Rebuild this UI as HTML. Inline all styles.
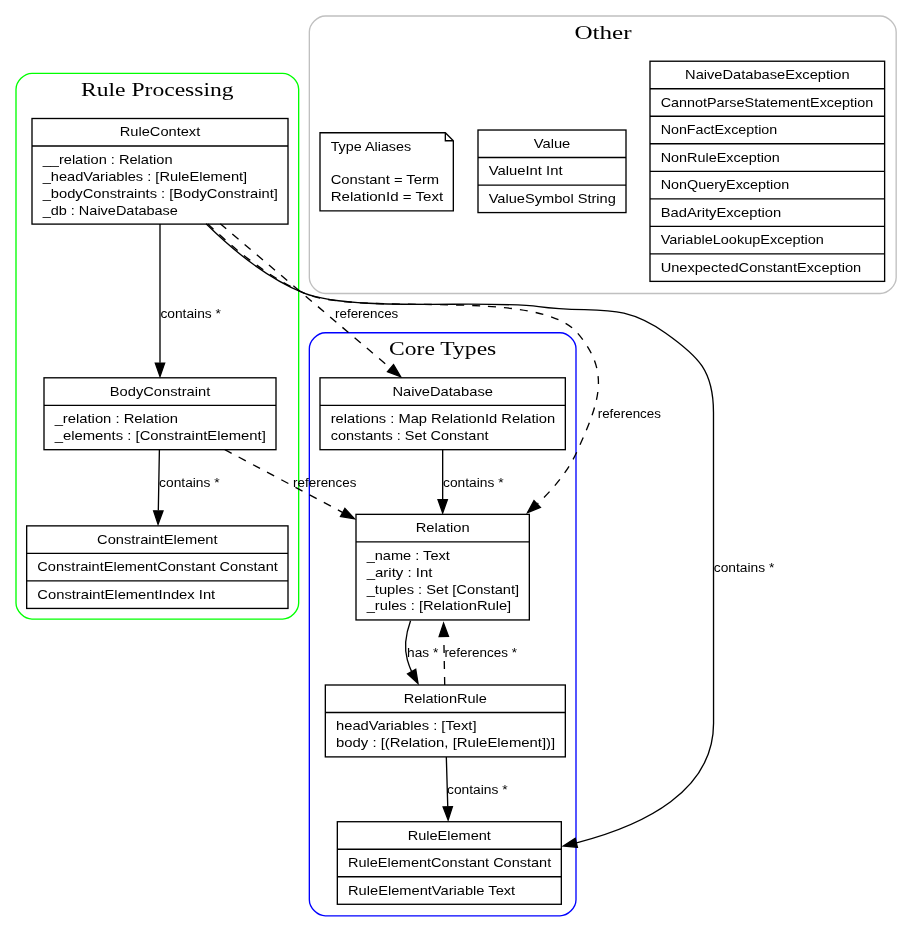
<!DOCTYPE html>
<html><head><meta charset="utf-8"><style>
html,body{margin:0;padding:0;background:#fff;}
svg{display:block;will-change:transform;}
</style></head><body>
<svg width="912" height="932" viewBox="0 0 912 932">
<rect x="0" y="0" width="912" height="932" fill="#fff"/>
<path d="M32.00,619.08C32.00,619.08 282.67,619.08 282.67,619.08 290.67,619.08 298.67,611.09 298.67,603.10 298.67,603.10 298.67,89.32 298.67,89.32 298.67,81.32 290.67,73.32 282.67,73.32 282.67,73.32 32.00,73.32 32.00,73.32 24.00,73.32 16.00,81.32 16.00,89.32 16.00,89.32 16.00,603.10 16.00,603.10 16.00,611.09 24.00,619.08 32.00,619.08" fill="none" stroke="#00ff00" stroke-width="1.333"/>
<text x="157.33" y="96.42" font-family="&quot;Liberation Serif&quot;, serif" font-size="19.6" text-anchor="middle" textLength="152.53" lengthAdjust="spacingAndGlyphs">Rule Processing</text>
<path d="M325.33,915.80C325.33,915.80 560.00,915.80 560.00,915.80 568.00,915.80 576.00,907.80 576.00,899.80 576.00,899.80 576.00,348.65 576.00,348.65 576.00,340.68 568.00,332.71 560.00,332.71 560.00,332.71 325.33,332.71 325.33,332.71 317.33,332.71 309.33,340.68 309.33,348.65 309.33,348.65 309.33,899.80 309.33,899.80 309.33,907.80 317.33,915.80 325.33,915.80" fill="none" stroke="#0000ff" stroke-width="1.333"/>
<text x="442.67" y="355.21" font-family="&quot;Liberation Serif&quot;, serif" font-size="19.6" text-anchor="middle" textLength="107.20" lengthAdjust="spacingAndGlyphs">Core Types</text>
<path d="M325.33,293.53C325.33,293.53 880.17,293.53 880.17,293.53 888.17,293.53 896.17,285.56 896.17,277.59 896.17,277.59 896.17,31.99 896.17,31.99 896.17,24.00 888.17,16.00 880.17,16.00 880.17,16.00 325.33,16.00 325.33,16.00 317.33,16.00 309.33,24.00 309.33,31.99 309.33,31.99 309.33,277.59 309.33,277.59 309.33,285.56 317.33,293.53 325.33,293.53" fill="none" stroke="#c0c0c0" stroke-width="1.333"/>
<text x="603.00" y="39.00" font-family="&quot;Liberation Serif&quot;, serif" font-size="19.6" text-anchor="middle" textLength="57.20" lengthAdjust="spacingAndGlyphs">Other</text>
<rect x="32.00" y="118.50" width="256.00" height="105.60" fill="none" stroke="#000" stroke-width="1.333"/>
<text x="160.00" y="136.43" font-family="&quot;Liberation Sans&quot;, sans-serif" font-size="13.4" text-anchor="middle" textLength="80.53" lengthAdjust="spacingAndGlyphs">RuleContext</text>
<line x1="32.00" y1="146.02" x2="288.00" y2="146.02" stroke="#000" stroke-width="1.333"/>
<text x="42.67" y="163.95" font-family="&quot;Liberation Sans&quot;, sans-serif" font-size="13.4" textLength="129.87" lengthAdjust="spacingAndGlyphs">__relation : Relation</text>
<text x="42.67" y="180.81" font-family="&quot;Liberation Sans&quot;, sans-serif" font-size="13.4" textLength="204.53" lengthAdjust="spacingAndGlyphs">_headVariables : [RuleElement]</text>
<text x="42.67" y="197.66" font-family="&quot;Liberation Sans&quot;, sans-serif" font-size="13.4" textLength="235.20" lengthAdjust="spacingAndGlyphs">_bodyConstraints : [BodyConstraint]</text>
<text x="42.67" y="214.51" font-family="&quot;Liberation Sans&quot;, sans-serif" font-size="13.4" textLength="135.20" lengthAdjust="spacingAndGlyphs">_db : NaiveDatabase</text>
<rect x="44.00" y="377.80" width="232.00" height="71.89" fill="none" stroke="#000" stroke-width="1.333"/>
<text x="160.00" y="395.74" font-family="&quot;Liberation Sans&quot;, sans-serif" font-size="13.4" text-anchor="middle" textLength="100.53" lengthAdjust="spacingAndGlyphs">BodyConstraint</text>
<line x1="44.00" y1="405.32" x2="276.00" y2="405.32" stroke="#000" stroke-width="1.333"/>
<text x="54.67" y="423.26" font-family="&quot;Liberation Sans&quot;, sans-serif" font-size="13.4" textLength="123.20" lengthAdjust="spacingAndGlyphs">_relation : Relation</text>
<text x="54.67" y="440.11" font-family="&quot;Liberation Sans&quot;, sans-serif" font-size="13.4" textLength="211.20" lengthAdjust="spacingAndGlyphs">_elements : [ConstraintElement]</text>
<rect x="26.67" y="525.87" width="261.33" height="82.56" fill="none" stroke="#000" stroke-width="1.333"/>
<text x="157.33" y="543.80" font-family="&quot;Liberation Sans&quot;, sans-serif" font-size="13.4" text-anchor="middle" textLength="120.53" lengthAdjust="spacingAndGlyphs">ConstraintElement</text>
<line x1="26.67" y1="553.39" x2="288.00" y2="553.39" stroke="#000" stroke-width="1.333"/>
<text x="37.33" y="571.32" font-family="&quot;Liberation Sans&quot;, sans-serif" font-size="13.4" textLength="240.53" lengthAdjust="spacingAndGlyphs">ConstraintElementConstant Constant</text>
<line x1="26.67" y1="580.91" x2="288.00" y2="580.91" stroke="#000" stroke-width="1.333"/>
<text x="37.33" y="598.84" font-family="&quot;Liberation Sans&quot;, sans-serif" font-size="13.4" textLength="177.87" lengthAdjust="spacingAndGlyphs">ConstraintElementIndex Int</text>
<rect x="320.00" y="377.80" width="245.33" height="71.89" fill="none" stroke="#000" stroke-width="1.333"/>
<text x="442.67" y="395.74" font-family="&quot;Liberation Sans&quot;, sans-serif" font-size="13.4" text-anchor="middle" textLength="100.53" lengthAdjust="spacingAndGlyphs">NaiveDatabase</text>
<line x1="320.00" y1="405.32" x2="565.33" y2="405.32" stroke="#000" stroke-width="1.333"/>
<text x="330.67" y="423.26" font-family="&quot;Liberation Sans&quot;, sans-serif" font-size="13.4" textLength="224.53" lengthAdjust="spacingAndGlyphs">relations : Map RelationId Relation</text>
<text x="330.67" y="440.11" font-family="&quot;Liberation Sans&quot;, sans-serif" font-size="13.4" textLength="157.87" lengthAdjust="spacingAndGlyphs">constants : Set Constant</text>
<rect x="356.00" y="514.35" width="173.33" height="105.60" fill="none" stroke="#000" stroke-width="1.333"/>
<text x="442.67" y="532.28" font-family="&quot;Liberation Sans&quot;, sans-serif" font-size="13.4" text-anchor="middle" textLength="53.87" lengthAdjust="spacingAndGlyphs">Relation</text>
<line x1="356.00" y1="541.87" x2="529.33" y2="541.87" stroke="#000" stroke-width="1.333"/>
<text x="366.67" y="559.80" font-family="&quot;Liberation Sans&quot;, sans-serif" font-size="13.4" textLength="83.20" lengthAdjust="spacingAndGlyphs">_name : Text</text>
<text x="366.67" y="576.66" font-family="&quot;Liberation Sans&quot;, sans-serif" font-size="13.4" textLength="65.87" lengthAdjust="spacingAndGlyphs">_arity : Int</text>
<text x="366.67" y="593.51" font-family="&quot;Liberation Sans&quot;, sans-serif" font-size="13.4" textLength="152.53" lengthAdjust="spacingAndGlyphs">_tuples : Set [Constant]</text>
<text x="366.67" y="610.36" font-family="&quot;Liberation Sans&quot;, sans-serif" font-size="13.4" textLength="144.53" lengthAdjust="spacingAndGlyphs">_rules : [RelationRule]</text>
<rect x="325.33" y="685.00" width="240.00" height="71.89" fill="none" stroke="#000" stroke-width="1.333"/>
<text x="445.33" y="702.94" font-family="&quot;Liberation Sans&quot;, sans-serif" font-size="13.4" text-anchor="middle" textLength="83.20" lengthAdjust="spacingAndGlyphs">RelationRule</text>
<line x1="325.33" y1="712.52" x2="565.33" y2="712.52" stroke="#000" stroke-width="1.333"/>
<text x="336.00" y="730.46" font-family="&quot;Liberation Sans&quot;, sans-serif" font-size="13.4" textLength="140.53" lengthAdjust="spacingAndGlyphs">headVariables : [Text]</text>
<text x="336.00" y="747.31" font-family="&quot;Liberation Sans&quot;, sans-serif" font-size="13.4" textLength="219.20" lengthAdjust="spacingAndGlyphs">body : [(Relation, [RuleElement])]</text>
<rect x="337.33" y="821.72" width="224.00" height="82.56" fill="none" stroke="#000" stroke-width="1.333"/>
<text x="449.33" y="839.65" font-family="&quot;Liberation Sans&quot;, sans-serif" font-size="13.4" text-anchor="middle" textLength="83.20" lengthAdjust="spacingAndGlyphs">RuleElement</text>
<line x1="337.33" y1="849.24" x2="561.33" y2="849.24" stroke="#000" stroke-width="1.333"/>
<text x="348.00" y="867.17" font-family="&quot;Liberation Sans&quot;, sans-serif" font-size="13.4" textLength="203.20" lengthAdjust="spacingAndGlyphs">RuleElementConstant Constant</text>
<line x1="337.33" y1="876.76" x2="561.33" y2="876.76" stroke="#000" stroke-width="1.333"/>
<text x="348.00" y="894.69" font-family="&quot;Liberation Sans&quot;, sans-serif" font-size="13.4" textLength="167.20" lengthAdjust="spacingAndGlyphs">RuleElementVariable Text</text>
<rect x="478.00" y="130.02" width="148.00" height="82.56" fill="none" stroke="#000" stroke-width="1.333"/>
<text x="552.00" y="147.95" font-family="&quot;Liberation Sans&quot;, sans-serif" font-size="13.4" text-anchor="middle" textLength="36.53" lengthAdjust="spacingAndGlyphs">Value</text>
<line x1="478.00" y1="157.54" x2="626.00" y2="157.54" stroke="#000" stroke-width="1.333"/>
<text x="488.67" y="175.47" font-family="&quot;Liberation Sans&quot;, sans-serif" font-size="13.4" textLength="73.87" lengthAdjust="spacingAndGlyphs">ValueInt Int</text>
<line x1="478.00" y1="185.06" x2="626.00" y2="185.06" stroke="#000" stroke-width="1.333"/>
<text x="488.67" y="202.99" font-family="&quot;Liberation Sans&quot;, sans-serif" font-size="13.4" textLength="127.20" lengthAdjust="spacingAndGlyphs">ValueSymbol String</text>
<rect x="650.00" y="61.22" width="234.63" height="220.16" fill="none" stroke="#000" stroke-width="1.333"/>
<text x="767.32" y="79.15" font-family="&quot;Liberation Sans&quot;, sans-serif" font-size="13.4" text-anchor="middle" textLength="164.53" lengthAdjust="spacingAndGlyphs">NaiveDatabaseException</text>
<line x1="650.00" y1="88.74" x2="884.63" y2="88.74" stroke="#000" stroke-width="1.333"/>
<text x="660.67" y="106.67" font-family="&quot;Liberation Sans&quot;, sans-serif" font-size="13.4" textLength="212.53" lengthAdjust="spacingAndGlyphs">CannotParseStatementException</text>
<line x1="650.00" y1="116.26" x2="884.63" y2="116.26" stroke="#000" stroke-width="1.333"/>
<text x="660.67" y="134.19" font-family="&quot;Liberation Sans&quot;, sans-serif" font-size="13.4" textLength="116.53" lengthAdjust="spacingAndGlyphs">NonFactException</text>
<line x1="650.00" y1="143.78" x2="884.63" y2="143.78" stroke="#000" stroke-width="1.333"/>
<text x="660.67" y="161.71" font-family="&quot;Liberation Sans&quot;, sans-serif" font-size="13.4" textLength="119.20" lengthAdjust="spacingAndGlyphs">NonRuleException</text>
<line x1="650.00" y1="171.30" x2="884.63" y2="171.30" stroke="#000" stroke-width="1.333"/>
<text x="660.67" y="189.23" font-family="&quot;Liberation Sans&quot;, sans-serif" font-size="13.4" textLength="128.53" lengthAdjust="spacingAndGlyphs">NonQueryException</text>
<line x1="650.00" y1="198.82" x2="884.63" y2="198.82" stroke="#000" stroke-width="1.333"/>
<text x="660.67" y="216.75" font-family="&quot;Liberation Sans&quot;, sans-serif" font-size="13.4" textLength="120.53" lengthAdjust="spacingAndGlyphs">BadArityException</text>
<line x1="650.00" y1="226.34" x2="884.63" y2="226.34" stroke="#000" stroke-width="1.333"/>
<text x="660.67" y="244.27" font-family="&quot;Liberation Sans&quot;, sans-serif" font-size="13.4" textLength="163.20" lengthAdjust="spacingAndGlyphs">VariableLookupException</text>
<line x1="650.00" y1="253.86" x2="884.63" y2="253.86" stroke="#000" stroke-width="1.333"/>
<text x="660.67" y="271.79" font-family="&quot;Liberation Sans&quot;, sans-serif" font-size="13.4" textLength="200.53" lengthAdjust="spacingAndGlyphs">UnexpectedConstantException</text>
<path d="M320.00,132.76L445.33,132.76L453.33,140.76L453.33,210.84L320.00,210.84Z M445.33,132.76L445.33,140.76L453.33,140.76" fill="none" stroke="#000" stroke-width="1.333"/>
<text x="330.67" y="150.69" font-family="&quot;Liberation Sans&quot;, sans-serif" font-size="13.4" textLength="80.53" lengthAdjust="spacingAndGlyphs">Type Aliases</text>
<text x="330.67" y="184.40" font-family="&quot;Liberation Sans&quot;, sans-serif" font-size="13.4" textLength="108.53" lengthAdjust="spacingAndGlyphs">Constant = Term</text>
<text x="330.67" y="201.25" font-family="&quot;Liberation Sans&quot;, sans-serif" font-size="13.4" textLength="112.53" lengthAdjust="spacingAndGlyphs">RelationId = Text</text>
<path d="M160.00,224.07C160.00,265.56 160.00,322.83 160.00,362.82" fill="none" stroke="#000" stroke-width="1.333"/>
<polygon points="164.67,363.12 160.00,376.41 155.33,363.12" fill="#000" stroke="#000" stroke-width="1.333"/>
<text x="190.67" y="318.05" font-family="&quot;Liberation Sans&quot;, sans-serif" font-size="12.5" text-anchor="middle" textLength="60.53" lengthAdjust="spacingAndGlyphs">contains *</text>
<path d="M220.29,223.78C271.09,266.87 342.49,327.44 390.16,367.87" fill="none" stroke="#000" stroke-width="1.333" stroke-dasharray="8,8"/>
<polygon points="393.52,364.62 400.65,376.77 387.48,371.70" fill="#000" stroke="#000" stroke-width="1.333"/>
<text x="366.67" y="318.05" font-family="&quot;Liberation Sans&quot;, sans-serif" font-size="12.5" text-anchor="middle" textLength="63.20" lengthAdjust="spacingAndGlyphs">references</text>
<path d="M207.87,223.88C233.87,248.90 268.00,276.94 304.00,293.03 360.28,317.55 537.51,286.50 577.33,332.85 611.13,372.27 599.00,402.35 578.03,449.19 569.12,469.83 554.18,488.15 537.50,503.75" fill="none" stroke="#000" stroke-width="1.333" stroke-dasharray="8,8"/>
<polygon points="540.43,507.42 527.52,512.62 534.00,500.60" fill="#000" stroke="#000" stroke-width="1.333"/>
<text x="629.33" y="418.35" font-family="&quot;Liberation Sans&quot;, sans-serif" font-size="12.5" text-anchor="middle" textLength="63.20" lengthAdjust="spacingAndGlyphs">references</text>
<path d="M206.12,223.78C232.13,249.45 266.83,278.13 304.00,293.14 352.61,312.21 486.92,299.49 538.67,306.57 596.36,314.48 619.12,300.27 665.80,333.21 699.15,356.81 713.47,371.11 713.48,412.42 713.48,412.42 713.48,412.42 713.56,722.28 714.18,790.88 644.21,825.41 576.56,842.79" fill="none" stroke="#000" stroke-width="1.333"/>
<polygon points="577.40,847.37 563.34,846.00 575.18,838.34" fill="#000" stroke="#000" stroke-width="1.333"/>
<text x="744.03" y="571.75" font-family="&quot;Liberation Sans&quot;, sans-serif" font-size="12.5" text-anchor="middle" textLength="60.53" lengthAdjust="spacingAndGlyphs">contains *</text>
<path d="M159.39,449.66C159.07,468.02 158.67,490.36 158.32,510.37" fill="none" stroke="#000" stroke-width="1.333"/>
<polygon points="162.97,511.02 158.06,524.23 153.64,510.87" fill="#000" stroke="#000" stroke-width="1.333"/>
<text x="189.37" y="486.75" font-family="&quot;Liberation Sans&quot;, sans-serif" font-size="12.5" text-anchor="middle" textLength="60.53" lengthAdjust="spacingAndGlyphs">contains *</text>
<path d="M224.85,449.66C260.00,468.42 303.63,491.67 342.43,512.36" fill="none" stroke="#000" stroke-width="1.333" stroke-dasharray="8,8"/>
<polygon points="344.92,508.42 354.48,518.79 340.52,516.61" fill="#000" stroke="#000" stroke-width="1.333"/>
<text x="324.73" y="486.75" font-family="&quot;Liberation Sans&quot;, sans-serif" font-size="12.5" text-anchor="middle" textLength="63.20" lengthAdjust="spacingAndGlyphs">references</text>
<path d="M442.67,449.66C442.67,464.75 442.67,482.31 442.67,499.14" fill="none" stroke="#000" stroke-width="1.333"/>
<polygon points="447.33,499.66 442.67,512.94 438.00,499.66" fill="#000" stroke="#000" stroke-width="1.333"/>
<text x="473.33" y="486.75" font-family="&quot;Liberation Sans&quot;, sans-serif" font-size="12.5" text-anchor="middle" textLength="60.53" lengthAdjust="spacingAndGlyphs">contains *</text>
<path d="M410.55,620.67C405.90,633.58 403.80,647.55 407.33,659.93 408.35,663.48 409.74,667.48 411.52,671.38" fill="none" stroke="#000" stroke-width="1.333"/>
<polygon points="415.73,669.36 418.03,683.49 407.55,673.84" fill="#000" stroke="#000" stroke-width="1.333"/>
<text x="422.67" y="656.97" font-family="&quot;Liberation Sans&quot;, sans-serif" font-size="12.5" text-anchor="middle" textLength="31.20" lengthAdjust="spacingAndGlyphs">has *</text>
<path d="M444.72,684.89C444.45,670.57 444.12,653.34 443.81,636.44" fill="none" stroke="#000" stroke-width="1.333" stroke-dasharray="8,8"/>
<polygon points="439.15,636.52 443.57,623.25 448.48,636.36" fill="#000" stroke="#000" stroke-width="1.333"/>
<text x="480.67" y="656.97" font-family="&quot;Liberation Sans&quot;, sans-serif" font-size="12.5" text-anchor="middle" textLength="72.53" lengthAdjust="spacingAndGlyphs">references *</text>
<path d="M446.33,757.10C446.77,772.49 447.29,790.30 447.76,806.75" fill="none" stroke="#000" stroke-width="1.333"/>
<polygon points="452.43,806.67 448.14,820.08 443.10,806.94" fill="#000" stroke="#000" stroke-width="1.333"/>
<text x="477.33" y="793.92" font-family="&quot;Liberation Sans&quot;, sans-serif" font-size="12.5" text-anchor="middle" textLength="60.53" lengthAdjust="spacingAndGlyphs">contains *</text>
</svg>
</body></html>
